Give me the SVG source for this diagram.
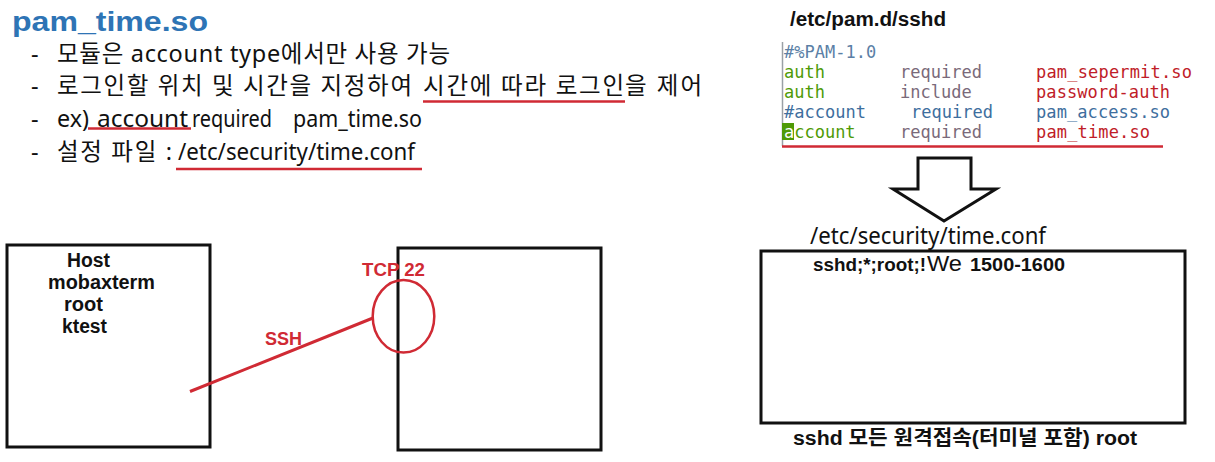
<svg xmlns="http://www.w3.org/2000/svg" width="1215" height="462" viewBox="0 0 1215 462">
<style>
.kr{font-family:"Noto Sans","Noto Sans CJK KR",sans-serif;font-size:23.5px;fill:#111}
.b{font-family:"Liberation Sans","Noto Sans CJK KR",sans-serif;font-weight:bold;fill:#111}
.mono{font-family:"DejaVu Sans Mono","Liberation Mono",monospace;font-size:17px}
.red{fill:#d02a34}
.ul{stroke:#d02a34;stroke-width:2.5;fill:none}
.box{fill:#fff;stroke:#111;stroke-width:3}
.g{fill:#4e9a06}.p{fill:#7a6a7a}.r{fill:#c01c28}.bl{fill:#3e6e9e}
</style>
<rect width="1215" height="462" fill="#fff"/>
<g id="notes">
<text x="12" y="31" font-family="Liberation Sans,sans-serif" font-weight="bold" font-size="27" fill="#2e74b5" textLength="196" lengthAdjust="spacingAndGlyphs">pam_time.so</text>
<text class="kr" x="31" y="62">-</text>
<text class="kr" x="57" y="62" textLength="393">모듈은 account type에서만 사용 가능</text>
<text class="kr" x="31" y="94">-</text>
<text class="kr" x="57" y="94" textLength="355">로그인할 위치 및 시간을 지정하여</text>
<text class="kr" x="423" y="94" textLength="201">시간에 따라 로그인</text>
<text class="kr" x="625" y="94" textLength="77">을 제어</text>
<line class="ul" x1="423" y1="101.5" x2="625" y2="101.5"/>
<text class="kr" x="31" y="127">-</text>
<text class="kr" x="57" y="127" textLength="32" lengthAdjust="spacingAndGlyphs">ex)</text>
<text class="kr" x="97" y="127" textLength="91" lengthAdjust="spacingAndGlyphs">account</text>
<text class="kr" x="192" y="127" textLength="80" lengthAdjust="spacingAndGlyphs">required</text>
<text class="kr" x="293" y="127" textLength="129" lengthAdjust="spacingAndGlyphs">pam_time.so</text>
<line class="ul" x1="88" y1="128.5" x2="191" y2="128.5"/>
<text class="kr" x="31" y="160">-</text>
<text class="kr" x="57" y="160" textLength="115">설정 파일 :</text>
<text class="kr" x="178" y="160" textLength="237" lengthAdjust="spacingAndGlyphs">/etc/security/time.conf</text>
<line class="ul" x1="176" y1="169" x2="422" y2="169"/>
</g>
<g id="pam-sshd">
<text class="b" x="790" y="26" font-size="20" textLength="156" lengthAdjust="spacingAndGlyphs">/etc/pam.d/sshd</text>
<line x1="782.5" y1="42" x2="782.5" y2="146" stroke="#9aa0a6" stroke-width="1.5"/>
<text class="mono" x="784" y="58" fill="#5b7fa6">#%PAM-1.0</text>
<text class="mono g" x="784" y="78">auth</text>
<text class="mono p" x="900" y="78">required</text>
<text class="mono r" x="1036" y="78" textLength="156">pam_sepermit.so</text>
<text class="mono g" x="784" y="98">auth</text>
<text class="mono p" x="900" y="98">include</text>
<text class="mono r" x="1036" y="98" textLength="134">password-auth</text>
<text class="mono bl" x="784" y="118">#account</text>
<text class="mono bl" x="911" y="118">required</text>
<text class="mono bl" x="1036" y="118" textLength="134">pam_access.so</text>
<rect x="782" y="123" width="12" height="17" fill="#4e9a06"/>
<text class="mono" x="784" y="138" fill="#fff">a</text>
<text class="mono g" x="794.2" y="138">ccount</text>
<text class="mono p" x="900" y="138">required</text>
<text class="mono r" x="1036" y="138" textLength="114">pam_time.so</text>
<line class="ul" x1="782" y1="146.5" x2="1163" y2="146.5"/>
</g>
<g id="arrow">
<polygon points="918,158 971,158 971,189 996,189 944,221 893,189 918,189" fill="#fff" stroke="#111" stroke-width="3" stroke-linejoin="miter"/>
</g>
<g id="timeconf">
<text class="kr" x="810" y="244" font-size="22" textLength="236" lengthAdjust="spacingAndGlyphs">/etc/security/time.conf</text>
<rect class="box" x="761" y="251" width="424" height="172"/>
<text class="b" x="813" y="271" font-size="18"><tspan textLength="113" lengthAdjust="spacingAndGlyphs">sshd;*;root;!</tspan><tspan x="927" font-size="22" font-weight="normal" textLength="35" lengthAdjust="spacingAndGlyphs">We</tspan><tspan x="970" textLength="95" lengthAdjust="spacingAndGlyphs">1500-1600</tspan></text>
<text class="b" x="793" y="445" font-size="20" textLength="344" lengthAdjust="spacingAndGlyphs">sshd 모든 원격접속(터미널 포함) root</text>
</g>
<g id="host">
<rect class="box" x="7" y="245" width="203" height="202"/>
<text class="b" x="67" y="267" font-size="19.5" textLength="43" lengthAdjust="spacingAndGlyphs">Host</text>
<text class="b" x="48" y="289" font-size="19.5" textLength="107" lengthAdjust="spacingAndGlyphs">mobaxterm</text>
<text class="b" x="64" y="311" font-size="19.5" textLength="39" lengthAdjust="spacingAndGlyphs">root</text>
<text class="b" x="62" y="333" font-size="19.5" textLength="45" lengthAdjust="spacingAndGlyphs">ktest</text>
</g>
<g id="server">
<rect class="box" x="398" y="248" width="203" height="202"/>
</g>
<g id="connectors">
<line x1="190" y1="391.5" x2="373" y2="318" stroke="#d02a34" stroke-width="3"/>
<ellipse cx="403.5" cy="316.3" rx="30.8" ry="36.3" fill="none" stroke="#d02a34" stroke-width="2.5"/>
<text class="b red" x="362" y="276" font-size="18.5" textLength="63" lengthAdjust="spacingAndGlyphs">TCP 22</text>
<text class="b red" x="265" y="345" font-size="18" textLength="37" lengthAdjust="spacingAndGlyphs">SSH</text>
</g>
</svg>
